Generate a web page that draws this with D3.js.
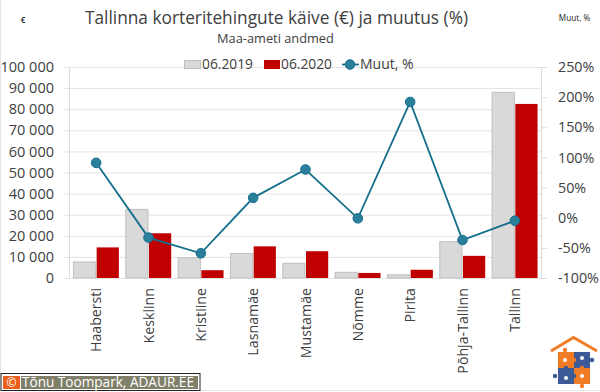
<!DOCTYPE html>
<html><head><meta charset="utf-8">
<script src="https://cdn.jsdelivr.net/npm/d3@7"></script>
<style>html,body{margin:0;padding:0;background:#fff}svg{display:block}text{font-family:"Open Sans",sans-serif}</style>
</head><body><div id="c"></div>
<script>
const categories=["Haabersti","Kesklinn","Kristiine","Lasnamäe","Mustamäe","Nõmme","Pirita","Põhja-Tallinn","Tallinn"];
const values2019=[7600,32500,9600,11600,7000,2700,1500,17200,88000];
const values2020=[14500,21200,3700,15000,12700,2400,3900,10500,82500];
const change=[91,-33,-59,33,80,-1,192,-37,-5];
const leftTicks=[0,10000,20000,30000,40000,50000,60000,70000,80000,90000,100000];
const rightTicks=[-100,-50,0,50,100,150,200,250];
const seriesNames=["06.2019","06.2020","Muut, %"];
const colors={a:"#d9d9d9",aS:"#bfbfbf",b:"#c00000",line:"#156f8c",dot:"#2a7f9b",grid:"#e4e4e4",text:"#404040"};

const W=600,H=392,m={l:69,r:541,t:67,b:278};
const svg=d3.select("#c").append("svg").attr("width",W).attr("height",H);
svg.append("rect").attr("width",W).attr("height",H).attr("fill","#fff");
svg.append("path").attr("d",`M0.5,0V${H-1.5}H${W}`).attr("fill","none").attr("stroke","#e6e6e6");

const x=d3.scaleBand().domain(categories).range([m.l+1,m.r]);
const y=d3.scaleLinear().domain([0,100000]).range([m.b,m.t]);
const y2=d3.scaleLinear().domain([-100,250]).range([m.b,m.t]);
const fmt=v=>d3.format(",")(v).replace(/,/g," ");

// gridlines
svg.append("g").selectAll("line").data(leftTicks).join("line")
 .attr("x1",m.l-5).attr("x2",m.r).attr("y1",d=>y(d)+.5).attr("y2",d=>y(d)+.5)
 .attr("stroke",colors.grid).attr("stroke-width",1);
// axis lines
svg.append("line").attr("x1",m.l+.5).attr("x2",m.l+.5).attr("y1",m.t).attr("y2",m.b).attr("stroke","#dcdcdc");
svg.append("line").attr("x1",m.r+.5).attr("x2",m.r+.5).attr("y1",m.t).attr("y2",m.b).attr("stroke","#dcdcdc");
svg.append("g").selectAll("line").data(rightTicks).join("line")
 .attr("x1",m.r).attr("x2",m.r+6).attr("y1",d=>y2(d)+.5).attr("y2",d=>y2(d)+.5).attr("stroke","#dcdcdc");

// axes text through d3 axes
const la=svg.append("g").attr("transform",`translate(${m.l-15},0)`).call(d3.axisLeft(y).tickValues(leftTicks).tickFormat(fmt).tickSize(0).tickPadding(0));
la.select(".domain").remove();
la.selectAll("text").attr("font-size",14.5).attr("fill",colors.text).style("font-family",'"Open Sans",sans-serif');
const ra=svg.append("g").attr("transform",`translate(${m.r+17},0)`).call(d3.axisRight(y2).tickValues(rightTicks).tickFormat(d=>d+"%").tickSize(0).tickPadding(0));
ra.select(".domain").remove();
ra.selectAll("text").attr("font-size",14.3).attr("fill",colors.text).style("font-family",'"Open Sans",sans-serif');

// bars
const g=svg.append("g");
const bw=23.2;
[[values2019,colors.a,colors.aS,0],[values2020,colors.b,"#d0707a",1]].forEach(([vals,f,s,k])=>{
 g.append("g").selectAll("rect").data(vals).join("rect")
  .attr("x",(d,i)=>x(categories[i])+x.bandwidth()/2-bw+k*bw+.5)
  .attr("y",d=>y(d)).attr("width",bw-1).attr("height",d=>y(0)-y(d))
  .attr("fill",f).attr("stroke",k?"none":s).attr("stroke-width",1);
});

// category labels
svg.append("g").selectAll("text").data(categories).join("text")
 .attr("transform",d=>`translate(${x(d)+x.bandwidth()/2+5},288) rotate(-90)`)
 .attr("text-anchor","end").attr("font-size",14.2).attr("fill",colors.text).text(d=>d);

// line
const cx=(d,i)=>x(categories[i])+x.bandwidth()/2;
svg.append("path").datum(change).attr("fill","none").attr("stroke",colors.line).attr("stroke-width",1.8)
 .attr("d",d3.line().x(cx).y(d=>y2(d)));
svg.append("g").selectAll("circle").data(change).join("circle")
 .attr("cx",cx).attr("cy",d=>y2(d)).attr("r",4.8).attr("fill",colors.dot).attr("stroke",colors.line).attr("stroke-width",1);

// titles
svg.append("text").attr("x",276.5).attr("y",24).attr("text-anchor","middle").attr("font-size",17.3).attr("fill",colors.text).text("Tallinna korteritehingute käive (€) ja muutus (%)");
svg.append("text").attr("x",275.5).attr("y",43).attr("text-anchor","middle").attr("font-size",12.8).attr("fill",colors.text).text("Maa-ameti andmed");
svg.append("text").attr("x",23).attr("y",23).attr("text-anchor","middle").attr("font-size",8).attr("font-weight",600).attr("fill","#222").text("€");
svg.append("text").attr("x",574.5).attr("y",21).attr("text-anchor","middle").attr("font-size",8.2).attr("fill","#222").text("Muut, %");

// legend
const lg=svg.append("g");
lg.append("rect").attr("x",184.5).attr("y",60.5).attr("width",16).attr("height",8).attr("fill",colors.a).attr("stroke",colors.aS);
lg.append("text").attr("x",202).attr("y",69).attr("font-size",13.8).attr("fill",colors.text).text(seriesNames[0]);
lg.append("rect").attr("x",264).attr("y",60).attr("width",16).attr("height",9).attr("fill",colors.b);
lg.append("text").attr("x",281).attr("y",69).attr("font-size",13.8).attr("fill",colors.text).text(seriesNames[1]);
lg.append("line").attr("x1",342).attr("x2",359).attr("y1",64.5).attr("y2",64.5).attr("stroke",colors.line).attr("stroke-width",1.8);
lg.append("circle").attr("cx",350).attr("cy",64.5).attr("r",4.8).attr("fill",colors.dot).attr("stroke",colors.line);
lg.append("text").attr("x",360).attr("y",69).attr("font-size",14).attr("fill",colors.text).text(seriesNames[2]);

// credit
const cr=svg.append("g");
cr.append("rect").attr("x",1).attr("y",373.5).attr("width",199).attr("height",17).attr("fill","#fff").attr("stroke","#222");
cr.append("rect").attr("x",3).attr("y",376).attr("width",17).attr("height",13).attr("fill","#e8601c");
cr.append("rect").attr("x",21).attr("y",376).attr("width",177).attr("height",13).attr("fill","#7f7f6a");
cr.append("text").attr("x",11.5).attr("y",387).attr("text-anchor","middle").attr("font-size",12).attr("fill","#fff").text("©");
cr.append("text").attr("x",22).attr("y",387).attr("font-size",13.6).attr("fill","#fff").text("Tõnu Toompark, ADAUR.EE");

// logo
const lo=svg.append("g");
lo.append("path").attr("d","M551,351 L573.5,337.5 L597,351").attr("fill","none").attr("stroke","#f07d26").attr("stroke-width",3);
[[558,352,16,16,"#f07d26"],[574,352,16,16,"#3c5a96"],[558,368,16,16,"#3c5a96"],[574,368,16,16,"#f07d26"]].forEach(r=>
 lo.append("rect").attr("x",r[0]).attr("y",r[1]).attr("width",r[2]).attr("height",r[3]).attr("fill",r[4]));
[[565,350,"#f07d26"],[592,360,"#3c5a96"],[555,376,"#3c5a96"],[582,386,"#f07d26"],[574,360,"#f07d26"],[566,368,"#3c5a96"],[582,368,"#f07d26"],[574,376,"#3c5a96"]].forEach(c=>
 lo.append("circle").attr("cx",c[0]).attr("cy",c[1]).attr("r",2.2).attr("fill",c[2]));
[[565,360],[582,358],[566,378],[582,376]].forEach(c=>
 lo.append("circle").attr("cx",c[0]).attr("cy",c[1]).attr("r",2).attr("fill","#fff"));
</script></body></html>
